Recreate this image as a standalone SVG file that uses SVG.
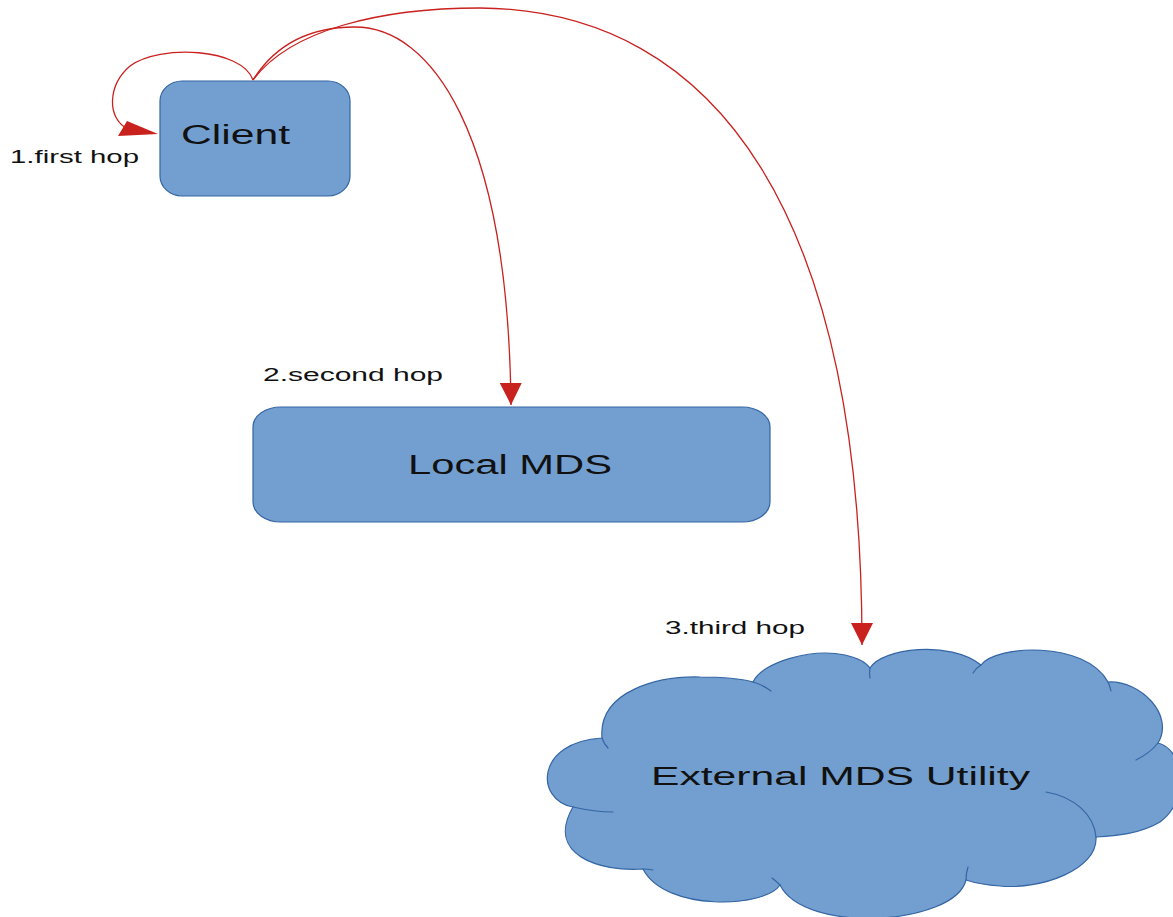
<svg xmlns="http://www.w3.org/2000/svg" width="1173" height="917" viewBox="0 0 1173 917">
  <style>
    .node { fill: #729fcf; stroke: #3465a4; stroke-width: 1.2; }
    .seam { fill: none; stroke: #3465a4; stroke-width: 1.2; stroke-linecap: round; }
    .label { font-family: "Liberation Sans", Arial, sans-serif; fill: #111; }
    .big { font-size: 27px; }
    .small { font-size: 18px; }
    .edge { fill: none; stroke: #c9211e; stroke-width: 1.3; }
    .head { fill: #c9211e; stroke: none; }
  </style>
  <defs>
    <marker id="arrow" viewBox="0 0 22 22" refX="22" refY="11" markerWidth="22" markerHeight="22" markerUnits="userSpaceOnUse" orient="auto">
      <path class="head" d="M0,0 L22,11 L0,22 z"/>
    </marker>
  </defs>
  <rect width="1173" height="917" fill="#ffffff"/>

  <!-- Client -->
  <g id="client">
    <rect class="node" x="160" y="81" width="190" height="115" rx="22" ry="20"/>
    <text class="label big" x="181" y="144" textLength="109" lengthAdjust="spacingAndGlyphs">Client</text>
  </g>

  <!-- Local MDS -->
  <g id="local-mds">
    <rect class="node" x="253" y="407" width="517" height="115" rx="28" ry="20"/>
    <text class="label big" x="408" y="474" textLength="204" lengthAdjust="spacingAndGlyphs">Local MDS</text>
  </g>

  <!-- External MDS Utility (cloud) -->
  <g id="external-mds">
    <path class="node" d="M602,738
      C598,690 660,676 700,677 C725,677 742,679 753,682
      C762,662 812,648 845,655 C858,658 866,662 870,668
      C882,648 950,640 981,665
      C995,645 1085,640 1108,682
      C1140,680 1175,715 1158,743
      C1185,750 1190,800 1160,822 C1140,834 1115,836 1096,837
      C1098,870 1040,890 1000,886 C985,885 975,883 966,880
      C955,925 805,935 780,885
      C765,908 665,912 643,869
      C600,872 545,855 573,807
      C535,800 535,742 602,738 Z"/>
    <path class="seam" d="M602,738 Q604,744 608,748"/>
    <path class="seam" d="M753,682 Q763,685 771,691"/>
    <path class="seam" d="M870,668 Q869,673 870,678"/>
    <path class="seam" d="M981,665 Q976,668 973,673"/>
    <path class="seam" d="M1108,682 Q1110,686 1111,691"/>
    <path class="seam" d="M1158,743 Q1150,753 1136,760"/>
    <path class="seam" d="M1096,837 C1094,815 1075,797 1046,792"/>
    <path class="seam" d="M966,880 Q966,873 968,867"/>
    <path class="seam" d="M780,885 Q776,881 772,878"/>
    <path class="seam" d="M643,869 Q648,869 653,870"/>
    <path class="seam" d="M573,807 Q595,812 613,812"/>
    <text class="label" x="651" y="785" font-size="25" textLength="379" lengthAdjust="spacingAndGlyphs">External MDS Utility</text>
  </g>

  <!-- Hops -->
  <g id="connectors">
    <path class="edge" d="M253,80 C242,48 160,44 130,66 C108,85 106,118 128,129 L140,132"/>
    <polygon class="head" points="118,136 127,121 158,134"/>
    <path class="edge" d="M253,80 C275,45 310,27 355,27 C430,27 508,130 511,405" marker-end="url(#arrow)"/>
    <path class="edge" d="M253,80 C290,30 380,8 480,8 C720,10 862,220 862,645" marker-end="url(#arrow)"/>
    <text class="label small" x="10" y="163" textLength="129" lengthAdjust="spacingAndGlyphs">1.first hop</text>
    <text class="label small" x="263" y="381" textLength="180" lengthAdjust="spacingAndGlyphs">2.second hop</text>
    <text class="label small" x="665" y="634" textLength="140" lengthAdjust="spacingAndGlyphs">3.third hop</text>
  </g>
</svg>
